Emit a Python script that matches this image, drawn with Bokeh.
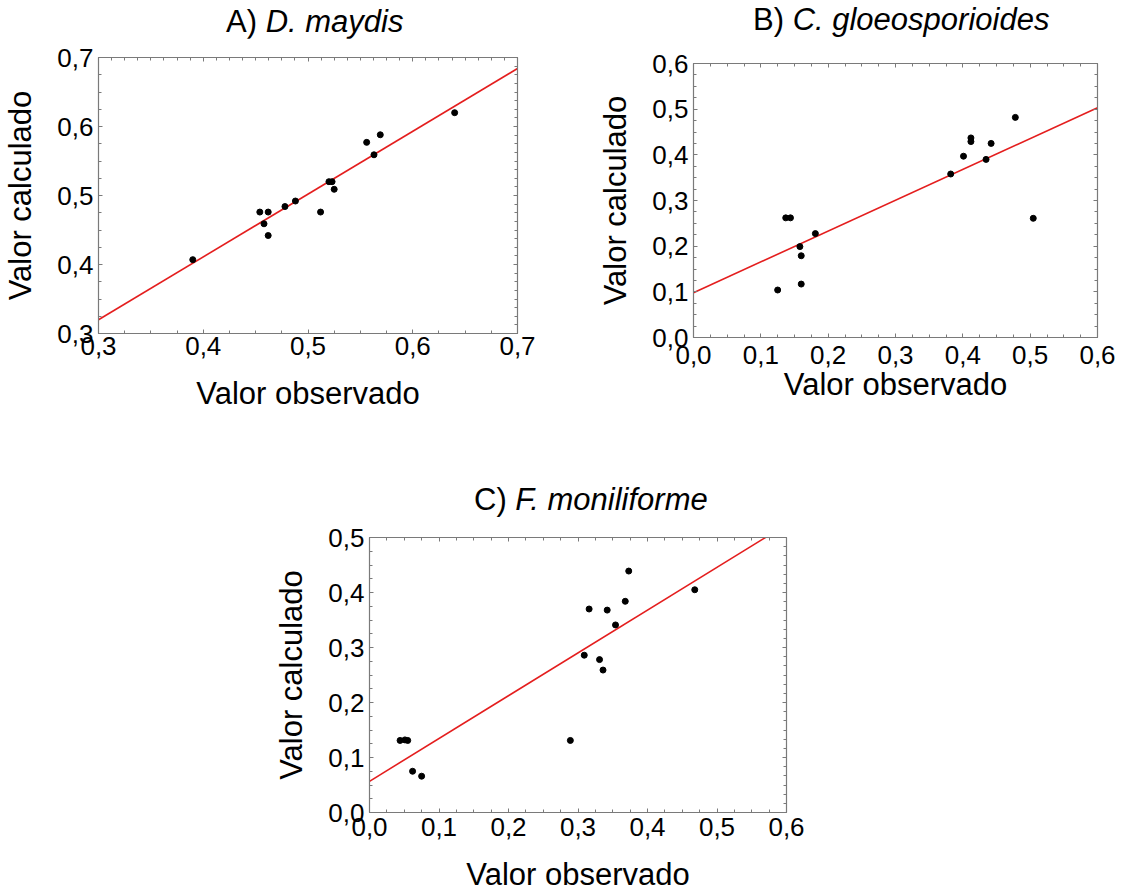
from bokeh.plotting import figure
from bokeh.models import (LinearAxis, FixedTicker, CustomJSTickFormatter, Range1d, Div)
from bokeh.layouts import column, row
from bokeh.embed import file_html
from bokeh.resources import INLINE

# ---------------- data ----------------
# Panel A) D. maydis
a_observed = [0.390, 0.454, 0.462, 0.458, 0.462, 0.478, 0.488, 0.512, 0.520, 0.523,
              0.525, 0.556, 0.563, 0.569, 0.640]
a_calculated = [0.407, 0.476, 0.476, 0.459, 0.442, 0.484, 0.492, 0.476, 0.520, 0.520,
                0.509, 0.577, 0.559, 0.588, 0.620]
a_fit_intercept = 0.047
a_fit_slope = 0.91
a_xticks = [0.3, 0.4, 0.5, 0.6, 0.7]
a_yticks = [0.3, 0.4, 0.5, 0.6, 0.7]

# Panel B) C. gloeosporioides
b_observed = [0.125, 0.137, 0.144, 0.158, 0.160, 0.160, 0.181, 0.382, 0.401, 0.412,
              0.412, 0.4345, 0.442, 0.478, 0.5046]
b_calculated = [0.104, 0.262, 0.262, 0.199, 0.179, 0.117, 0.2275, 0.358, 0.397, 0.437,
                0.429, 0.390, 0.425, 0.482, 0.261]
b_fit_intercept = 0.098
b_fit_slope = 0.675
b_xticks = [0.0, 0.1, 0.2, 0.3, 0.4, 0.5, 0.6]
b_yticks = [0.0, 0.1, 0.2, 0.3, 0.4, 0.5, 0.6]

# Panel C) F. moniliforme
c_observed = [0.044, 0.051, 0.055, 0.062, 0.075, 0.289, 0.309, 0.316, 0.331, 0.336,
              0.342, 0.354, 0.368, 0.373, 0.468]
c_calculated = [0.131, 0.132, 0.131, 0.075, 0.066, 0.131, 0.286, 0.370, 0.278, 0.259,
                0.368, 0.341, 0.384, 0.439, 0.405]
c_fit_intercept = 0.0567
c_fit_slope = 0.778
c_xticks = [0.0, 0.1, 0.2, 0.3, 0.4, 0.5, 0.6]
c_yticks = [0.0, 0.1, 0.2, 0.3, 0.4, 0.5]

x_label = "Valor observado"
y_label = "Valor calculado"
titles = [("A)", "D. maydis"), ("B)", "C. gloeosporioides"), ("C)", "F. moniliforme")]

FONT = "Liberation Sans"
GREY = "#7a7a7a"


def minors(ticks, n):
    out = []
    for a, b in zip(ticks[:-1], ticks[1:]):
        for k in range(1, n):
            out.append(a + (b - a) * k / n)
    return out


def style_axis(ax):
    ax.axis_line_color = GREY
    ax.axis_line_width = 1.2
    ax.major_tick_line_color = GREY
    ax.minor_tick_line_color = GREY
    ax.major_tick_in = 4
    ax.major_tick_out = 0
    ax.minor_tick_in = 3
    ax.minor_tick_out = 0
    ax.major_label_text_font = FONT
    ax.major_label_text_font_size = "26px"
    ax.major_label_text_color = "black"


def make_panel(obs, calc, icpt, slope, xticks, yticks, top_n, right_n,
               width, height, bl, br, bt, bb, x_std, x_lab_std):
    p = figure(width=width, height=height, output_backend="svg", toolbar_location=None,
               x_range=Range1d(xticks[0], xticks[-1]), y_range=Range1d(yticks[0], yticks[-1]),
               min_border_left=bl, min_border_right=br, min_border_top=bt, min_border_bottom=bb)
    p.xgrid.visible = False
    p.ygrid.visible = False
    p.outline_line_color = GREY
    p.background_fill_color = "white"
    p.border_fill_color = "white"

    xa = p.xaxis[0]
    ya = p.yaxis[0]
    xa.ticker = FixedTicker(ticks=xticks, minor_ticks=minors(xticks, 4))
    ya.ticker = FixedTicker(ticks=yticks, minor_ticks=minors(yticks, 4))
    fmt = CustomJSTickFormatter(code="return tick.toFixed(1).replace('.', ',');")
    xa.formatter = fmt
    ya.formatter = fmt
    for ax in (xa, ya):
        style_axis(ax)
        ax.axis_label_text_font = FONT
        ax.axis_label_text_font_size = "31px"
        ax.axis_label_text_font_style = "normal"
        ax.axis_label_text_color = "black"
    xa.axis_label = x_label
    ya.axis_label = y_label
    xa.major_label_standoff = x_std
    ya.major_label_standoff = 5
    xa.axis_label_standoff = x_lab_std
    ya.axis_label_standoff = 16

    empty = CustomJSTickFormatter(code="return '';")
    top = LinearAxis(ticker=FixedTicker(ticks=xticks, minor_ticks=minors(xticks, top_n)),
                     formatter=empty)
    right = LinearAxis(ticker=FixedTicker(ticks=yticks, minor_ticks=minors(yticks, right_n)),
                       formatter=empty)
    for ax in (top, right):
        style_axis(ax)
        ax.major_label_standoff = 0
        ax.major_label_text_font_size = "1px"
    p.add_layout(top, "above")
    p.add_layout(right, "right")

    xs = [xticks[0], xticks[-1]]
    ys = [icpt + slope * x for x in xs]
    p.line(xs, ys, line_color="#e41e1e", line_width=1.6)
    p.scatter(obs, calc, size=6, color="black")
    return p


def make_title(parts, width, height, pad_left, pad_top):
    prefix, species = parts
    return Div(text=f"{prefix} <i>{species}</i>", width=width, height=height,
               margin=(0, 0, 0, 0),
               styles={"font-family": FONT, "font-size": "31px", "line-height": "30px",
                       "color": "black", "padding-left": f"{pad_left}px",
                       "padding-top": f"{pad_top}px", "white-space": "nowrap",
                       "box-sizing": "border-box"})


pA = make_panel(a_observed, a_calculated, a_fit_intercept, a_fit_slope, a_xticks, a_yticks,
                8, 8, 595, 390, 96, 78, 19, 95, 3, 18)
pB = make_panel(b_observed, b_calculated, b_fit_intercept, b_fit_slope, b_xticks, b_yticks,
                4, 4, 541, 390, 92, 39, 25, 91, 8, 0)
pC = make_panel(c_observed, c_calculated, c_fit_intercept, c_fit_slope, c_xticks, c_yticks,
                4, 6, 828, 376, 369, 42, 19, 81, 5, 18)

tA = make_title(titles[0], 595, 38, 226, 7)
tB = make_title(titles[1], 541, 38, 158, 5)
tC = make_title(titles[2], 828, 90, 474, 57)

layout = column(row(column(tA, pA), column(tB, pB)), column(tC, pC))
open("out.html", "w").write(file_html(layout, INLINE))
